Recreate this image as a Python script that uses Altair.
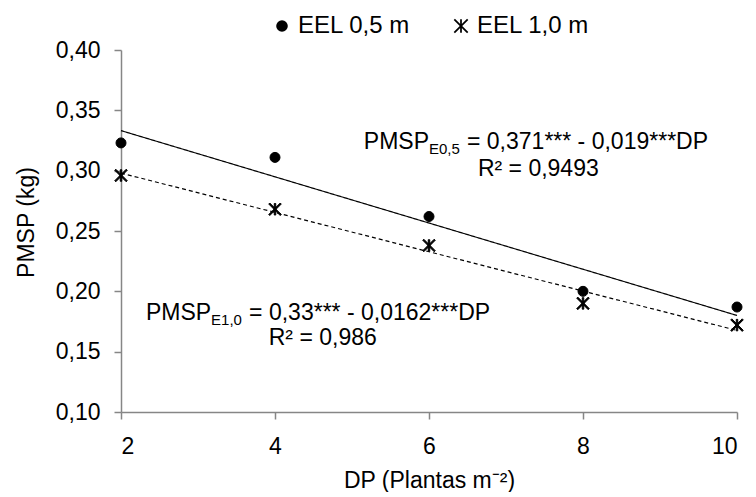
import altair as alt
import pandas as pd

# ---- data ----
dp = [2, 4, 6, 8, 10]
eel_05 = [0.323, 0.311, 0.262, 0.200, 0.187]
eel_10 = [0.296, 0.268, 0.238, 0.190, 0.172]
series = ["EEL 0,5 m", "EEL 1,0 m"]

# equation annotations (text + anchor in data coordinates)
eq_main = ["PMSP", "PMSP"]
eq_sub = ["E0,5", "E1,0"]
eq_rest = ["= 0,371*** - 0,019***DP", "= 0,33*** - 0,0162***DP"]
eq_x = [6.0, 3.17]
eq_y = [0.3238, 0.182]
r2_text = ["R² = 0,9493", "R² = 0,986"]
r2_x = [7.42, 4.62]
r2_y = [0.301, 0.1613]

FONT = "Liberation Sans"
FS = 23
# filled "X with a vertical bar" marker (three bars)
ASTER = ("M-1.256,-1.044L1.044,1.256L1.256,1.044L-1.044,-1.256Z"
         "M-1.044,1.256L1.256,-1.044L1.044,-1.256L-1.256,1.044Z"
         "M-0.15,-1.15L-0.15,1.15L0.15,1.15L0.15,-1.15Z")

rows = []
for s, vals in zip(series, [eel_05, eel_10]):
    for x, y in zip(dp, vals):
        rows.append({"dp": x, "pmsp": y, "serie": s})
df = pd.DataFrame(rows)

ann = pd.DataFrame({"main": eq_main, "sub": eq_sub, "rest": eq_rest,
                    "x": eq_x, "y": eq_y})
r2 = pd.DataFrame({"text": r2_text, "x": r2_x, "y": r2_y})

xs = alt.Scale(domain=[2, 10], nice=False, zero=False)
ys = alt.Scale(domain=[0.10, 0.40], nice=False, zero=False)

xax = alt.Axis(values=dp, format="d", title="DP (Plantas m⁻²)", grid=False,
               domainColor="#868686", domainWidth=1.5, tickColor="#868686",
               tickWidth=1.5, tickSize=7, labelFontSize=FS, labelFont=FONT,
               labelColor="black", labelPadding=16, titleFontSize=FS,
               titleFont=FONT, titleFontWeight="normal", titleColor="black",
               titlePadding=11)
yax = alt.Axis(values=[0.10, 0.15, 0.20, 0.25, 0.30, 0.35, 0.40],
               labelExpr="replace(format(datum.value, '.2f'), '.', ',')",
               title="PMSP (kg)", grid=False,
               domainColor="#868686", domainWidth=1.5, tickColor="#868686",
               tickWidth=1.5, tickSize=7, labelFontSize=FS, labelFont=FONT,
               labelColor="black", labelPadding=14, titleFontSize=FS,
               titleFont=FONT, titleFontWeight="normal", titleColor="black",
               titleX=-95, titleY=172, titleAngle=-90, titleAlign="center",
               titleBaseline="middle")

leg = alt.Legend(orient="none", legendX=149, legendY=-37,
                 direction="horizontal", labelFontSize=24, labelFont=FONT,
                 labelColor="black", symbolStrokeColor="black",
                 symbolFillColor="black", symbolStrokeWidth=1,
                 symbolSize=135, labelOffset=4, columnPadding=38,
                 titleFontSize=1, titleColor="white", titlePadding=0)

base = alt.Chart(df)

lines = base.transform_calculate(linha="datum.serie").transform_regression(
    "dp", "pmsp", groupby=["linha"]
).mark_line(color="black", strokeWidth=1.2).encode(
    x=alt.X("dp:Q", scale=xs, axis=xax),
    y=alt.Y("pmsp:Q", scale=ys, axis=yax),
    strokeDash=alt.StrokeDash("linha:N", scale=alt.Scale(domain=series, range=[[1, 0], [4, 3]]), legend=None),
)

points = base.mark_point(filled=True, color="black", stroke="black", strokeWidth=1,
                         size=100, opacity=1).encode(
    x=alt.X("dp:Q", scale=xs),
    y=alt.Y("pmsp:Q", scale=ys),
    shape=alt.Shape("serie:N", title=" ", scale=alt.Scale(domain=series, range=["circle", ASTER]), legend=leg),
)

tmain = alt.Chart(ann).mark_text(align="right", baseline="middle", font=FONT, fontSize=FS, color="black").encode(
    x=alt.X("x:Q", scale=xs), y=alt.Y("y:Q", scale=ys), text="main:N")
tsub = alt.Chart(ann).mark_text(align="left", baseline="middle", font=FONT, fontSize=15, color="black", dy=7).encode(
    x=alt.X("x:Q", scale=xs), y=alt.Y("y:Q", scale=ys), text="sub:N")
trest = alt.Chart(ann).mark_text(align="left", baseline="middle", font=FONT, fontSize=FS, color="black", dx=38).encode(
    x=alt.X("x:Q", scale=xs), y=alt.Y("y:Q", scale=ys), text="rest:N")
tr2 = alt.Chart(r2).mark_text(align="center", baseline="middle", font=FONT, fontSize=FS, color="black").encode(
    x=alt.X("x:Q", scale=xs), y=alt.Y("y:Q", scale=ys), text="text:N")

chart = alt.layer(points, lines, tmain, tsub, trest, tr2).properties(
    width=616, height=362,
    padding={"left": 15, "top": 13, "right": 5, "bottom": 0},
    background="white",
).configure_view(stroke=None)

chart.save("out.html", embed_options={"renderer": "svg", "actions": False})
